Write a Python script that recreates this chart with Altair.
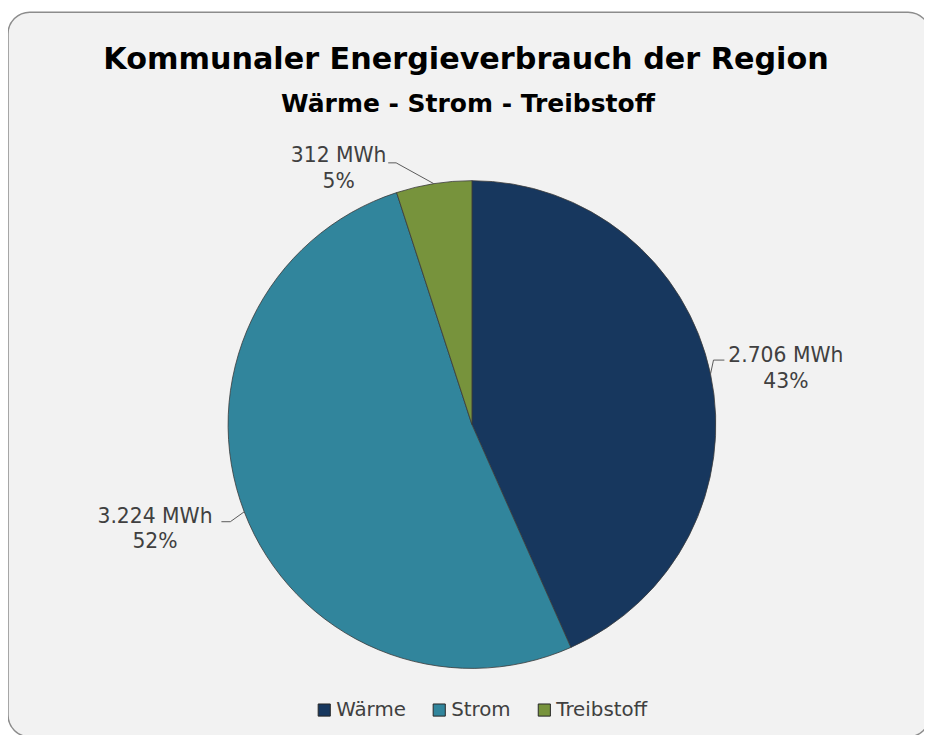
import math
import altair as alt
import pandas as pd

# ---------------- data ----------------
categories = ["Wärme", "Strom", "Treibstoff"]
values_mwh = [2706, 3224, 312]
colors = ["#17375e", "#31859c", "#77933c"]
title_text = "Kommunaler Energieverbrauch der Region"
subtitle_text = "Wärme - Strom - Treibstoff"

# ---------------- layout ----------------
W, H = 924, 727
CX, CY, R = 468, 417, 246
FONT = "DejaVu Sans"
# label first-line baseline relative to slice anchor (pie edge at mid angle)
label_offset = {"Wärme": (76, -12), "Strom": (-90, 11), "Treibstoff": (-96, -22)}
# leader elbow / end relative to label point
leader_elbow = {"Wärme": (-73, -2), "Strom": (76, -1), "Treibstoff": (58, 1)}
leader_end = {"Wärme": (-62, -2), "Strom": (67, -1), "Treibstoff": (50, 1)}

total = sum(values_mwh)


def fmt_de(v):
    return f"{v:,}".replace(",", ".")


df = pd.DataFrame({
    "category": categories,
    "value": values_mwh,
    "idx": list(range(len(categories))),
})

# label + leader geometry derived from slice angles
lab_rows, line_rows = [], []
cum = 0
for i, (c, v) in enumerate(zip(categories, values_mwh)):
    mid = (cum + v / 2) / total * 2 * math.pi
    cum += v
    ax = CX + R * math.sin(mid)
    ay = CY - R * math.cos(mid)
    lx = ax + label_offset[c][0]
    ly = ay + label_offset[c][1]
    pct = round(v / total * 100)
    lab_rows.append({"category": c, "x": lx, "y": ly,
                     "text": f"{fmt_de(v)} MWh\n{pct}%"})
    pts = [(ax, ay),
           (lx + leader_elbow[c][0], ly + leader_elbow[c][1]),
           (lx + leader_end[c][0], ly + leader_end[c][1])]
    for k, (px, py) in enumerate(pts):
        line_rows.append({"category": c, "k": k, "x": px, "y": py})

labels_df = pd.DataFrame(lab_rows)
lines_df = pd.DataFrame(line_rows)
bg_df = pd.DataFrame({"a": [0]})
titles_df = pd.DataFrame({"t": [title_text]})
sub_df = pd.DataFrame({"t": [subtitle_text]})

background = alt.Chart(bg_df).mark_rect(
    fill="#f2f2f2", stroke="#8c8c8c", strokeWidth=1.5, cornerRadius=22
).encode(
    x=alt.value(0), x2=alt.value(W + 6), y=alt.value(1), y2=alt.value(H + 5)
)

pie = alt.Chart(df).mark_arc(
    outerRadius=R, stroke="#3a3a3a", strokeWidth=0.8
).encode(
    theta=alt.Theta("value:Q", stack=True),
    color=alt.Color(
        "category:N",
        scale=alt.Scale(domain=categories, range=colors),
        sort=categories,
        legend=alt.Legend(
            title=None, orient="none", direction="horizontal",
            legendX=309, legendY=695,
            symbolType="square", symbolSize=150,
            symbolStrokeColor="#262626", symbolStrokeWidth=1,
            labelFont=FONT, labelFontSize=20, labelColor="#404040",
            labelOffset=2, columnPadding=23,
        ),
    ),
    order=alt.Order("idx:Q"),
    x=alt.value(CX), y=alt.value(CY),
)

leaders = alt.Chart(lines_df).mark_line(
    color="#595959", strokeWidth=1
).encode(
    x=alt.X("x:Q", scale=None),
    y=alt.Y("y:Q", scale=None),
    detail="category:N",
    order="k:Q",
)

label_text = alt.Chart(labels_df).mark_text(
    font=FONT, fontSize=20.5, color="#404040", align="center",
    baseline="alphabetic", lineBreak="\n", lineHeight=26
).encode(
    x=alt.X("x:Q", scale=None),
    y=alt.Y("y:Q", scale=None),
    text="text:N",
)

title = alt.Chart(titles_df).mark_text(
    font=FONT, fontSize=30.5, fontWeight="bold", color="#000000",
    align="center", baseline="alphabetic"
).encode(x=alt.value(462), y=alt.value(58), text="t:N")

subtitle = alt.Chart(sub_df).mark_text(
    font=FONT, fontSize=25.2, fontWeight="bold", color="#000000",
    align="center", baseline="alphabetic"
).encode(x=alt.value(464), y=alt.value(102), text="t:N")

chart = alt.layer(
    background, pie, leaders, label_text, title, subtitle
).properties(
    width=W, height=H, padding=0, autosize=alt.AutoSizeParams(type="none"),
    background="white",
).configure_view(stroke=None)

chart.save("out.html", embed_options={"renderer": "svg", "actions": False})
